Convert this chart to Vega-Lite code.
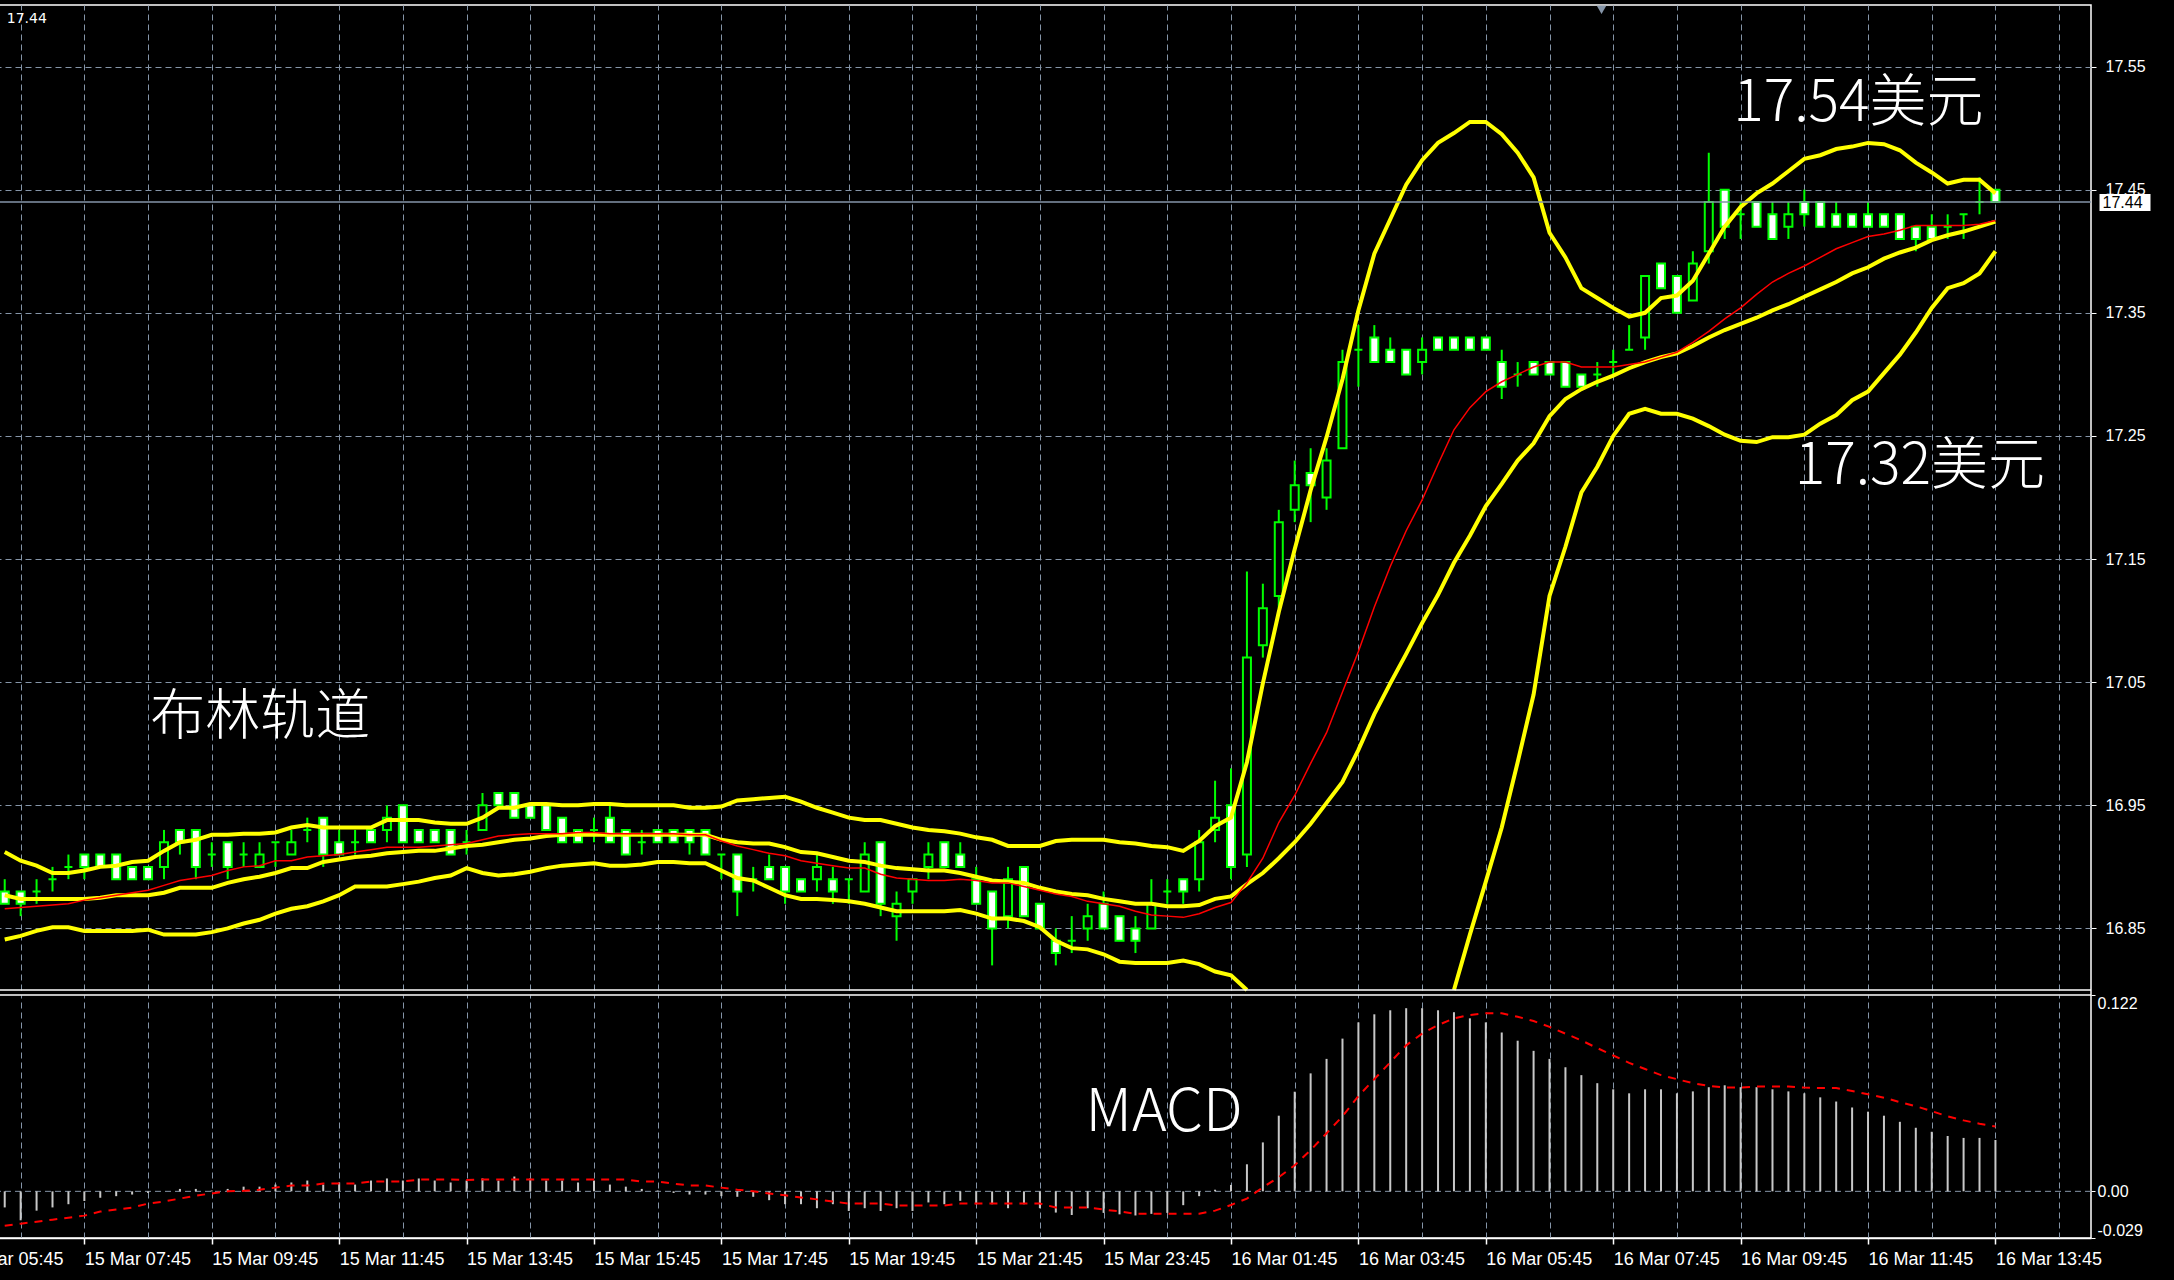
{
"$schema": "https://vega.github.io/schema/vega-lite/v6.json",
"width": 2151,
"height": 1233,
"autosize": {"type": "none"},
"padding": {"left": -60, "top": 5, "right": 83, "bottom": 42},
"background": "#000000",
"config": {
  "view": {"stroke": "#ffffff", "strokeWidth": 1.5, "fill": "#000000"},
  "axis": {"labelFont": "Liberation Sans", "labelColor": "#ffffff", "tickColor": "#ffffff", "domainColor": "#ffffff", "gridColor": "#8595a8", "gridDash": [6, 4], "gridWidth": 1, "labelOverlap": false, "labelFlush": false}
},
"data": {"values": [
{"t":"2017-03-15T06:30Z","open":16.88,"high":16.89,"low":16.87,"close":16.87,"upper":16.912,"mid":16.877,"lower":16.841,"ma":16.866,"macd":-0.010,"signal":-0.0214},
{"t":"2017-03-15T06:45Z","open":16.88,"high":16.88,"low":16.86,"close":16.87,"upper":16.905,"mid":16.874,"lower":16.844,"ma":16.867,"macd":-0.018,"signal":-0.0201},
{"t":"2017-03-15T07:00Z","open":16.88,"high":16.89,"low":16.87,"close":16.88,"upper":16.901,"mid":16.874,"lower":16.848,"ma":16.868,"macd":-0.012,"signal":-0.0189},
{"t":"2017-03-15T07:15Z","open":16.89,"high":16.90,"low":16.88,"close":16.89,"upper":16.895,"mid":16.874,"lower":16.851,"ma":16.869,"macd":-0.010,"signal":-0.0176},
{"t":"2017-03-15T07:30Z","open":16.90,"high":16.91,"low":16.89,"close":16.90,"upper":16.895,"mid":16.874,"lower":16.851,"ma":16.870,"macd":-0.008,"signal":-0.0164},
{"t":"2017-03-15T07:45Z","open":16.91,"high":16.91,"low":16.89,"close":16.90,"upper":16.897,"mid":16.874,"lower":16.848,"ma":16.873,"macd":-0.006,"signal":-0.0151},
{"t":"2017-03-15T08:00Z","open":16.91,"high":16.91,"low":16.90,"close":16.90,"upper":16.900,"mid":16.875,"lower":16.848,"ma":16.875,"macd":-0.004,"signal":-0.0126},
{"t":"2017-03-15T08:15Z","open":16.91,"high":16.91,"low":16.89,"close":16.89,"upper":16.901,"mid":16.877,"lower":16.848,"ma":16.877,"macd":-0.003,"signal":-0.0113},
{"t":"2017-03-15T08:30Z","open":16.90,"high":16.90,"low":16.89,"close":16.89,"upper":16.904,"mid":16.877,"lower":16.848,"ma":16.879,"macd":-0.002,"signal":-0.0101},
{"t":"2017-03-15T08:45Z","open":16.90,"high":16.90,"low":16.89,"close":16.89,"upper":16.905,"mid":16.877,"lower":16.849,"ma":16.881,"macd":-0.001,"signal":-0.0076},
{"t":"2017-03-15T09:00Z","open":16.90,"high":16.93,"low":16.89,"close":16.92,"upper":16.913,"mid":16.879,"lower":16.845,"ma":16.885,"macd":0.000,"signal":-0.0063},
{"t":"2017-03-15T09:15Z","open":16.93,"high":16.93,"low":16.91,"close":16.92,"upper":16.920,"mid":16.883,"lower":16.845,"ma":16.889,"macd":0.0015,"signal":-0.0045},
{"t":"2017-03-15T09:30Z","open":16.93,"high":16.93,"low":16.89,"close":16.90,"upper":16.922,"mid":16.883,"lower":16.845,"ma":16.891,"macd":0.0015,"signal":-0.0027},
{"t":"2017-03-15T09:45Z","open":16.91,"high":16.92,"low":16.90,"close":16.91,"upper":16.926,"mid":16.883,"lower":16.847,"ma":16.893,"macd":0.0005,"signal":-0.0013},
{"t":"2017-03-15T10:00Z","open":16.92,"high":16.92,"low":16.89,"close":16.90,"upper":16.926,"mid":16.887,"lower":16.850,"ma":16.897,"macd":0.0015,"signal":0.0},
{"t":"2017-03-15T10:15Z","open":16.91,"high":16.92,"low":16.90,"close":16.91,"upper":16.927,"mid":16.890,"lower":16.854,"ma":16.900,"macd":0.0029,"signal":0.0003},
{"t":"2017-03-15T10:30Z","open":16.90,"high":16.92,"low":16.90,"close":16.91,"upper":16.927,"mid":16.892,"lower":16.857,"ma":16.901,"macd":0.0029,"signal":0.001},
{"t":"2017-03-15T10:45Z","open":16.92,"high":16.92,"low":16.90,"close":16.92,"upper":16.928,"mid":16.895,"lower":16.862,"ma":16.905,"macd":0.0042,"signal":0.0023},
{"t":"2017-03-15T11:00Z","open":16.91,"high":16.93,"low":16.91,"close":16.92,"upper":16.932,"mid":16.899,"lower":16.866,"ma":16.905,"macd":0.0055,"signal":0.0036},
{"t":"2017-03-15T11:15Z","open":16.93,"high":16.94,"low":16.92,"close":16.93,"upper":16.934,"mid":16.899,"lower":16.868,"ma":16.908,"macd":0.0067,"signal":0.0036},
{"t":"2017-03-15T11:30Z","open":16.94,"high":16.94,"low":16.90,"close":16.91,"upper":16.932,"mid":16.904,"lower":16.872,"ma":16.909,"macd":0.0042,"signal":0.0048},
{"t":"2017-03-15T11:45Z","open":16.92,"high":16.93,"low":16.91,"close":16.91,"upper":16.932,"mid":16.906,"lower":16.877,"ma":16.910,"macd":0.0055,"signal":0.0048},
{"t":"2017-03-15T12:00Z","open":16.92,"high":16.93,"low":16.91,"close":16.92,"upper":16.932,"mid":16.908,"lower":16.884,"ma":16.912,"macd":0.0042,"signal":0.0048},
{"t":"2017-03-15T12:15Z","open":16.93,"high":16.93,"low":16.92,"close":16.92,"upper":16.932,"mid":16.909,"lower":16.884,"ma":16.914,"macd":0.0067,"signal":0.0061},
{"t":"2017-03-15T12:30Z","open":16.93,"high":16.95,"low":16.92,"close":16.94,"upper":16.938,"mid":16.911,"lower":16.884,"ma":16.916,"macd":0.008,"signal":0.0061},
{"t":"2017-03-15T12:45Z","open":16.95,"high":16.95,"low":16.92,"close":16.92,"upper":16.938,"mid":16.912,"lower":16.886,"ma":16.916,"macd":0.0067,"signal":0.0061},
{"t":"2017-03-15T13:00Z","open":16.93,"high":16.93,"low":16.92,"close":16.92,"upper":16.938,"mid":16.913,"lower":16.888,"ma":16.916,"macd":0.008,"signal":0.0073},
{"t":"2017-03-15T13:15Z","open":16.93,"high":16.93,"low":16.92,"close":16.92,"upper":16.936,"mid":16.913,"lower":16.891,"ma":16.917,"macd":0.0067,"signal":0.0073},
{"t":"2017-03-15T13:30Z","open":16.93,"high":16.93,"low":16.91,"close":16.91,"upper":16.935,"mid":16.915,"lower":16.893,"ma":16.918,"macd":0.0055,"signal":0.0073},
{"t":"2017-03-15T13:45Z","open":16.92,"high":16.93,"low":16.91,"close":16.92,"upper":16.935,"mid":16.917,"lower":16.899,"ma":16.919,"macd":0.0067,"signal":0.007},
{"t":"2017-03-15T14:00Z","open":16.93,"high":16.96,"low":16.93,"close":16.95,"upper":16.940,"mid":16.918,"lower":16.895,"ma":16.922,"macd":0.008,"signal":0.0073},
{"t":"2017-03-15T14:15Z","open":16.96,"high":16.96,"low":16.95,"close":16.95,"upper":16.948,"mid":16.920,"lower":16.893,"ma":16.925,"macd":0.0067,"signal":0.0073},
{"t":"2017-03-15T14:30Z","open":16.96,"high":16.96,"low":16.94,"close":16.94,"upper":16.948,"mid":16.922,"lower":16.894,"ma":16.926,"macd":0.0092,"signal":0.0073},
{"t":"2017-03-15T14:45Z","open":16.95,"high":16.95,"low":16.94,"close":16.94,"upper":16.951,"mid":16.923,"lower":16.896,"ma":16.927,"macd":0.008,"signal":0.0073},
{"t":"2017-03-15T15:00Z","open":16.95,"high":16.95,"low":16.93,"close":16.93,"upper":16.951,"mid":16.925,"lower":16.899,"ma":16.927,"macd":0.0067,"signal":0.0073},
{"t":"2017-03-15T15:15Z","open":16.94,"high":16.94,"low":16.92,"close":16.92,"upper":16.950,"mid":16.926,"lower":16.901,"ma":16.927,"macd":0.0067,"signal":0.0073},
{"t":"2017-03-15T15:30Z","open":16.93,"high":16.93,"low":16.92,"close":16.92,"upper":16.950,"mid":16.926,"lower":16.902,"ma":16.928,"macd":0.0055,"signal":0.0073},
{"t":"2017-03-15T15:45Z","open":16.93,"high":16.94,"low":16.92,"close":16.93,"upper":16.951,"mid":16.926,"lower":16.903,"ma":16.928,"macd":0.0067,"signal":0.0073},
{"t":"2017-03-15T16:00Z","open":16.94,"high":16.95,"low":16.92,"close":16.92,"upper":16.951,"mid":16.926,"lower":16.901,"ma":16.927,"macd":0.0042,"signal":0.0073},
{"t":"2017-03-15T16:15Z","open":16.93,"high":16.93,"low":16.91,"close":16.91,"upper":16.950,"mid":16.926,"lower":16.901,"ma":16.927,"macd":0.0029,"signal":0.0073},
{"t":"2017-03-15T16:30Z","open":16.92,"high":16.93,"low":16.91,"close":16.92,"upper":16.950,"mid":16.926,"lower":16.902,"ma":16.927,"macd":0.0015,"signal":0.0061},
{"t":"2017-03-15T16:45Z","open":16.93,"high":16.93,"low":16.92,"close":16.92,"upper":16.950,"mid":16.926,"lower":16.904,"ma":16.927,"macd":0.0005,"signal":0.0061},
{"t":"2017-03-15T17:00Z","open":16.93,"high":16.93,"low":16.92,"close":16.92,"upper":16.950,"mid":16.926,"lower":16.904,"ma":16.927,"macd":-0.001,"signal":0.0048},
{"t":"2017-03-15T17:15Z","open":16.93,"high":16.93,"low":16.91,"close":16.92,"upper":16.948,"mid":16.926,"lower":16.903,"ma":16.926,"macd":-0.002,"signal":0.0036},
{"t":"2017-03-15T17:30Z","open":16.93,"high":16.93,"low":16.91,"close":16.91,"upper":16.948,"mid":16.926,"lower":16.903,"ma":16.926,"macd":-0.002,"signal":0.0036},
{"t":"2017-03-15T17:45Z","open":16.91,"high":16.91,"low":16.89,"close":16.91,"upper":16.949,"mid":16.922,"lower":16.897,"ma":16.921,"macd":-0.003,"signal":0.0023},
{"t":"2017-03-15T18:00Z","open":16.91,"high":16.91,"low":16.86,"close":16.88,"upper":16.954,"mid":16.920,"lower":16.891,"ma":16.917,"macd":-0.0034,"signal":0.001},
{"t":"2017-03-15T18:15Z","open":16.89,"high":16.90,"low":16.88,"close":16.89,"upper":16.955,"mid":16.919,"lower":16.889,"ma":16.914,"macd":-0.0034,"signal":0.0},
{"t":"2017-03-15T18:30Z","open":16.90,"high":16.91,"low":16.89,"close":16.89,"upper":16.956,"mid":16.919,"lower":16.883,"ma":16.911,"macd":-0.0055,"signal":-0.0013},
{"t":"2017-03-15T18:45Z","open":16.90,"high":16.90,"low":16.87,"close":16.88,"upper":16.957,"mid":16.916,"lower":16.877,"ma":16.909,"macd":-0.008,"signal":-0.0025},
{"t":"2017-03-15T19:00Z","open":16.89,"high":16.89,"low":16.88,"close":16.88,"upper":16.953,"mid":16.912,"lower":16.874,"ma":16.905,"macd":-0.008,"signal":-0.0038},
{"t":"2017-03-15T19:15Z","open":16.89,"high":16.91,"low":16.88,"close":16.90,"upper":16.948,"mid":16.911,"lower":16.874,"ma":16.903,"macd":-0.0105,"signal":-0.005},
{"t":"2017-03-15T19:30Z","open":16.89,"high":16.90,"low":16.87,"close":16.88,"upper":16.944,"mid":16.908,"lower":16.873,"ma":16.901,"macd":-0.008,"signal":-0.0063},
{"t":"2017-03-15T19:45Z","open":16.89,"high":16.89,"low":16.87,"close":16.89,"upper":16.940,"mid":16.905,"lower":16.872,"ma":16.899,"macd":-0.0122,"signal":-0.0076},
{"t":"2017-03-15T20:00Z","open":16.88,"high":16.92,"low":16.88,"close":16.91,"upper":16.938,"mid":16.904,"lower":16.870,"ma":16.899,"macd":-0.0105,"signal":-0.0076},
{"t":"2017-03-15T20:15Z","open":16.92,"high":16.92,"low":16.86,"close":16.87,"upper":16.938,"mid":16.901,"lower":16.867,"ma":16.894,"macd":-0.0122,"signal":-0.0076},
{"t":"2017-03-15T20:30Z","open":16.86,"high":16.88,"low":16.84,"close":16.87,"upper":16.935,"mid":16.899,"lower":16.864,"ma":16.891,"macd":-0.0105,"signal":-0.0088},
{"t":"2017-03-15T20:45Z","open":16.88,"high":16.89,"low":16.87,"close":16.89,"upper":16.932,"mid":16.898,"lower":16.864,"ma":16.890,"macd":-0.0122,"signal":-0.0088},
{"t":"2017-03-15T21:00Z","open":16.90,"high":16.92,"low":16.89,"close":16.91,"upper":16.930,"mid":16.897,"lower":16.864,"ma":16.889,"macd":-0.0069,"signal":-0.0088},
{"t":"2017-03-15T21:15Z","open":16.92,"high":16.92,"low":16.90,"close":16.90,"upper":16.929,"mid":16.897,"lower":16.864,"ma":16.889,"macd":-0.008,"signal":-0.0088},
{"t":"2017-03-15T21:30Z","open":16.91,"high":16.92,"low":16.90,"close":16.90,"upper":16.927,"mid":16.895,"lower":16.865,"ma":16.890,"macd":-0.0059,"signal":-0.0076},
{"t":"2017-03-15T21:45Z","open":16.89,"high":16.90,"low":16.87,"close":16.87,"upper":16.924,"mid":16.892,"lower":16.862,"ma":16.889,"macd":-0.008,"signal":-0.0076},
{"t":"2017-03-15T22:00Z","open":16.88,"high":16.88,"low":16.82,"close":16.85,"upper":16.922,"mid":16.889,"lower":16.858,"ma":16.887,"macd":-0.008,"signal":-0.0076},
{"t":"2017-03-15T22:15Z","open":16.86,"high":16.90,"low":16.85,"close":16.89,"upper":16.917,"mid":16.888,"lower":16.858,"ma":16.887,"macd":-0.0105,"signal":-0.0076},
{"t":"2017-03-15T22:30Z","open":16.90,"high":16.90,"low":16.86,"close":16.86,"upper":16.917,"mid":16.887,"lower":16.856,"ma":16.884,"macd":-0.008,"signal":-0.0076},
{"t":"2017-03-15T22:45Z","open":16.87,"high":16.87,"low":16.85,"close":16.85,"upper":16.917,"mid":16.883,"lower":16.851,"ma":16.881,"macd":-0.0105,"signal":-0.0076},
{"t":"2017-03-15T23:00Z","open":16.84,"high":16.85,"low":16.82,"close":16.83,"upper":16.921,"mid":16.880,"lower":16.840,"ma":16.878,"macd":-0.0132,"signal":-0.0101},
{"t":"2017-03-15T23:15Z","open":16.84,"high":16.86,"low":16.83,"close":16.84,"upper":16.922,"mid":16.878,"lower":16.834,"ma":16.876,"macd":-0.0147,"signal":-0.0101},
{"t":"2017-03-15T23:30Z","open":16.85,"high":16.87,"low":16.84,"close":16.86,"upper":16.922,"mid":16.877,"lower":16.833,"ma":16.872,"macd":-0.0105,"signal":-0.0101},
{"t":"2017-03-15T23:45Z","open":16.87,"high":16.88,"low":16.85,"close":16.85,"upper":16.922,"mid":16.874,"lower":16.829,"ma":16.870,"macd":-0.0134,"signal":-0.0113},
{"t":"2017-03-16T00:00Z","open":16.86,"high":16.86,"low":16.84,"close":16.84,"upper":16.920,"mid":16.872,"lower":16.823,"ma":16.868,"macd":-0.0143,"signal":-0.0125},
{"t":"2017-03-16T00:15Z","open":16.85,"high":16.86,"low":16.83,"close":16.84,"upper":16.919,"mid":16.870,"lower":16.822,"ma":16.864,"macd":-0.015,"signal":-0.0139},
{"t":"2017-03-16T00:30Z","open":16.85,"high":16.89,"low":16.85,"close":16.87,"upper":16.917,"mid":16.870,"lower":16.822,"ma":16.861,"macd":-0.014,"signal":-0.0139},
{"t":"2017-03-16T00:45Z","open":16.88,"high":16.89,"low":16.87,"close":16.88,"upper":16.916,"mid":16.868,"lower":16.822,"ma":16.860,"macd":-0.0134,"signal":-0.0139},
{"t":"2017-03-16T01:00Z","open":16.89,"high":16.89,"low":16.87,"close":16.88,"upper":16.913,"mid":16.868,"lower":16.824,"ma":16.859,"macd":-0.0086,"signal":-0.0139},
{"t":"2017-03-16T01:15Z","open":16.89,"high":16.93,"low":16.88,"close":16.92,"upper":16.921,"mid":16.869,"lower":16.821,"ma":16.862,"macd":-0.003,"signal":-0.0139},
{"t":"2017-03-16T01:30Z","open":16.93,"high":16.97,"low":16.92,"close":16.94,"upper":16.933,"mid":16.874,"lower":16.815,"ma":16.867,"macd":0.001,"signal":-0.012},
{"t":"2017-03-16T01:45Z","open":16.95,"high":16.98,"low":16.89,"close":16.90,"upper":16.940,"mid":16.876,"lower":16.812,"ma":16.871,"macd":0.004,"signal":-0.0085},
{"t":"2017-03-16T02:00Z","open":16.91,"high":17.14,"low":16.90,"close":17.07,"upper":16.985,"mid":16.886,"lower":16.787,"ma":16.887,"macd":0.0168,"signal":-0.0045},
{"t":"2017-03-16T02:15Z","open":17.08,"high":17.13,"low":17.07,"close":17.11,"upper":17.049,"mid":16.895,"lower":null,"ma":16.907,"macd":0.0304,"signal":0.0025},
{"t":"2017-03-16T02:30Z","open":17.12,"high":17.19,"low":17.11,"close":17.18,"upper":17.107,"mid":16.907,"lower":null,"ma":16.936,"macd":0.047,"signal":0.0088},
{"t":"2017-03-16T02:45Z","open":17.19,"high":17.23,"low":17.18,"close":17.21,"upper":17.158,"mid":16.920,"lower":null,"ma":16.958,"macd":0.0619,"signal":0.0162},
{"t":"2017-03-16T03:00Z","open":17.22,"high":17.24,"low":17.18,"close":17.21,"upper":17.206,"mid":16.935,"lower":null,"ma":16.984,"macd":0.0733,"signal":0.0256},
{"t":"2017-03-16T03:15Z","open":17.20,"high":17.24,"low":17.19,"close":17.23,"upper":17.249,"mid":16.952,"lower":null,"ma":17.009,"macd":0.0823,"signal":0.0361},
{"t":"2017-03-16T03:30Z","open":17.24,"high":17.32,"low":17.24,"close":17.31,"upper":17.296,"mid":16.969,"lower":null,"ma":17.042,"macd":0.0949,"signal":0.0466},
{"t":"2017-03-16T03:45Z","open":17.32,"high":17.34,"low":17.29,"close":17.32,"upper":17.352,"mid":16.995,"lower":null,"ma":17.075,"macd":0.105,"signal":0.0592},
{"t":"2017-03-16T04:00Z","open":17.33,"high":17.34,"low":17.31,"close":17.31,"upper":17.398,"mid":17.024,"lower":null,"ma":17.111,"macd":0.110,"signal":0.0697},
{"t":"2017-03-16T04:15Z","open":17.32,"high":17.33,"low":17.31,"close":17.31,"upper":17.426,"mid":17.049,"lower":null,"ma":17.144,"macd":0.1125,"signal":0.0802},
{"t":"2017-03-16T04:30Z","open":17.32,"high":17.32,"low":17.30,"close":17.30,"upper":17.454,"mid":17.073,"lower":null,"ma":17.173,"macd":0.1138,"signal":0.0907},
{"t":"2017-03-16T04:45Z","open":17.31,"high":17.33,"low":17.30,"close":17.32,"upper":17.474,"mid":17.098,"lower":null,"ma":17.198,"macd":0.1138,"signal":0.098},
{"t":"2017-03-16T05:00Z","open":17.33,"high":17.33,"low":17.32,"close":17.32,"upper":17.488,"mid":17.121,"lower":null,"ma":17.227,"macd":0.1125,"signal":0.1033},
{"t":"2017-03-16T05:15Z","open":17.33,"high":17.33,"low":17.32,"close":17.32,"upper":17.496,"mid":17.147,"lower":16.798,"ma":17.255,"macd":0.1113,"signal":0.1075},
{"t":"2017-03-16T05:30Z","open":17.33,"high":17.33,"low":17.32,"close":17.32,"upper":17.505,"mid":17.169,"lower":16.845,"ma":17.273,"macd":0.1075,"signal":0.1096},
{"t":"2017-03-16T05:45Z","open":17.33,"high":17.33,"low":17.32,"close":17.32,"upper":17.505,"mid":17.193,"lower":16.888,"ma":17.286,"macd":0.105,"signal":0.1106},
{"t":"2017-03-16T06:00Z","open":17.31,"high":17.32,"low":17.28,"close":17.29,"upper":17.495,"mid":17.211,"lower":16.932,"ma":17.294,"macd":0.0987,"signal":0.1106},
{"t":"2017-03-16T06:15Z","open":17.30,"high":17.31,"low":17.29,"close":17.30,"upper":17.480,"mid":17.230,"lower":16.985,"ma":17.300,"macd":0.0936,"signal":0.1085},
{"t":"2017-03-16T06:30Z","open":17.31,"high":17.31,"low":17.30,"close":17.30,"upper":17.460,"mid":17.244,"lower":17.040,"ma":17.306,"macd":0.0873,"signal":0.1058},
{"t":"2017-03-16T06:45Z","open":17.31,"high":17.31,"low":17.30,"close":17.30,"upper":17.415,"mid":17.266,"lower":17.120,"ma":17.310,"macd":0.0823,"signal":0.1022},
{"t":"2017-03-16T07:00Z","open":17.31,"high":17.31,"low":17.29,"close":17.29,"upper":17.395,"mid":17.280,"lower":17.160,"ma":17.310,"macd":0.0771,"signal":0.098},
{"t":"2017-03-16T07:15Z","open":17.30,"high":17.30,"low":17.29,"close":17.29,"upper":17.370,"mid":17.288,"lower":17.204,"ma":17.306,"macd":0.0722,"signal":0.0938},
{"t":"2017-03-16T07:30Z","open":17.30,"high":17.31,"low":17.29,"close":17.30,"upper":17.362,"mid":17.294,"lower":17.225,"ma":17.306,"macd":0.0672,"signal":0.089},
{"t":"2017-03-16T07:45Z","open":17.31,"high":17.32,"low":17.30,"close":17.31,"upper":17.354,"mid":17.299,"lower":17.250,"ma":17.306,"macd":0.0634,"signal":0.0844},
{"t":"2017-03-16T08:00Z","open":17.32,"high":17.34,"low":17.32,"close":17.32,"upper":17.347,"mid":17.305,"lower":17.268,"ma":17.308,"macd":0.0609,"signal":0.0798},
{"t":"2017-03-16T08:15Z","open":17.33,"high":17.38,"low":17.32,"close":17.38,"upper":17.350,"mid":17.310,"lower":17.272,"ma":17.310,"macd":0.0634,"signal":0.076},
{"t":"2017-03-16T08:30Z","open":17.39,"high":17.39,"low":17.37,"close":17.37,"upper":17.362,"mid":17.314,"lower":17.268,"ma":17.314,"macd":0.0634,"signal":0.0722},
{"t":"2017-03-16T08:45Z","open":17.38,"high":17.38,"low":17.35,"close":17.35,"upper":17.364,"mid":17.317,"lower":17.268,"ma":17.318,"macd":0.0609,"signal":0.0697},
{"t":"2017-03-16T09:00Z","open":17.36,"high":17.40,"low":17.36,"close":17.39,"upper":17.376,"mid":17.323,"lower":17.264,"ma":17.326,"macd":0.0621,"signal":0.0672},
{"t":"2017-03-16T09:15Z","open":17.40,"high":17.48,"low":17.39,"close":17.44,"upper":17.398,"mid":17.330,"lower":17.258,"ma":17.335,"macd":0.0647,"signal":0.0655},
{"t":"2017-03-16T09:30Z","open":17.45,"high":17.45,"low":17.41,"close":17.42,"upper":17.420,"mid":17.336,"lower":17.251,"ma":17.345,"macd":0.0659,"signal":0.0645},
{"t":"2017-03-16T09:45Z","open":17.43,"high":17.44,"low":17.41,"close":17.43,"upper":17.436,"mid":17.341,"lower":17.246,"ma":17.354,"macd":0.0647,"signal":0.0645},
{"t":"2017-03-16T10:00Z","open":17.44,"high":17.44,"low":17.42,"close":17.42,"upper":17.447,"mid":17.346,"lower":17.245,"ma":17.365,"macd":0.0647,"signal":0.0651},
{"t":"2017-03-16T10:15Z","open":17.43,"high":17.44,"low":17.41,"close":17.41,"upper":17.455,"mid":17.352,"lower":17.249,"ma":17.375,"macd":0.0634,"signal":0.0651},
{"t":"2017-03-16T10:30Z","open":17.42,"high":17.44,"low":17.41,"close":17.43,"upper":17.465,"mid":17.357,"lower":17.249,"ma":17.382,"macd":0.0621,"signal":0.0651},
{"t":"2017-03-16T10:45Z","open":17.44,"high":17.45,"low":17.42,"close":17.43,"upper":17.475,"mid":17.363,"lower":17.251,"ma":17.388,"macd":0.0609,"signal":0.0645},
{"t":"2017-03-16T11:00Z","open":17.44,"high":17.44,"low":17.42,"close":17.42,"upper":17.478,"mid":17.369,"lower":17.260,"ma":17.395,"macd":0.0584,"signal":0.0642},
{"t":"2017-03-16T11:15Z","open":17.43,"high":17.44,"low":17.42,"close":17.42,"upper":17.483,"mid":17.375,"lower":17.267,"ma":17.402,"macd":0.0558,"signal":0.0642},
{"t":"2017-03-16T11:30Z","open":17.43,"high":17.43,"low":17.42,"close":17.42,"upper":17.485,"mid":17.382,"lower":17.279,"ma":17.407,"macd":0.0521,"signal":0.0624},
{"t":"2017-03-16T11:45Z","open":17.43,"high":17.44,"low":17.42,"close":17.42,"upper":17.488,"mid":17.387,"lower":17.286,"ma":17.412,"macd":0.0495,"signal":0.0603},
{"t":"2017-03-16T12:00Z","open":17.43,"high":17.43,"low":17.42,"close":17.42,"upper":17.487,"mid":17.394,"lower":17.301,"ma":17.414,"macd":0.047,"signal":0.0582},
{"t":"2017-03-16T12:15Z","open":17.43,"high":17.43,"low":17.41,"close":17.41,"upper":17.482,"mid":17.399,"lower":17.316,"ma":17.417,"macd":0.0432,"signal":0.0554},
{"t":"2017-03-16T12:30Z","open":17.42,"high":17.42,"low":17.40,"close":17.41,"upper":17.472,"mid":17.403,"lower":17.334,"ma":17.421,"macd":0.0395,"signal":0.0529},
{"t":"2017-03-16T12:45Z","open":17.42,"high":17.43,"low":17.41,"close":17.41,"upper":17.464,"mid":17.409,"lower":17.354,"ma":17.421,"macd":0.037,"signal":0.0498},
{"t":"2017-03-16T13:00Z","open":17.42,"high":17.43,"low":17.41,"close":17.42,"upper":17.455,"mid":17.413,"lower":17.370,"ma":17.421,"macd":0.0344,"signal":0.0466},
{"t":"2017-03-16T13:15Z","open":17.43,"high":17.43,"low":17.41,"close":17.43,"upper":17.458,"mid":17.416,"lower":17.374,"ma":17.421,"macd":0.0332,"signal":0.0441},
{"t":"2017-03-16T13:30Z","open":17.44,"high":17.46,"low":17.43,"close":17.44,"upper":17.458,"mid":17.420,"lower":17.382,"ma":17.422,"macd":0.0332,"signal":0.042},
{"t":"2017-03-16T13:45Z","open":17.45,"high":17.45,"low":17.44,"close":17.44,"upper":17.447,"mid":17.424,"lower":17.400,"ma":17.425,"macd":0.0319,"signal":0.0403}
]},
"layer": [
  {
    "layer": [
      {
        "mark": {"type": "rule", "color": "#00ff00", "strokeWidth": 2},
        "encoding": {
          "x": {"field": "t", "type": "temporal",
            "scale": {"type": "utc", "domain": [{"year": 2017, "month": 3, "date": 15, "hours": 5, "minutes": 33, "seconds": 45, "utc": true}, {"year": 2017, "month": 3, "date": 16, "hours": 15, "minutes": 10, "seconds": 18, "utc": true}]},
            "axis": {"orient": "top", "title": null, "labels": false, "ticks": false, "domain": false, "grid": true,
              "values": [
                {"year": 2017, "month": 3, "date": 15, "hours": 6, "minutes": 45, "utc": true},
                {"year": 2017, "month": 3, "date": 15, "hours": 7, "minutes": 45, "utc": true},
                {"year": 2017, "month": 3, "date": 15, "hours": 8, "minutes": 45, "utc": true},
                {"year": 2017, "month": 3, "date": 15, "hours": 9, "minutes": 45, "utc": true},
                {"year": 2017, "month": 3, "date": 15, "hours": 10, "minutes": 45, "utc": true},
                {"year": 2017, "month": 3, "date": 15, "hours": 11, "minutes": 45, "utc": true},
                {"year": 2017, "month": 3, "date": 15, "hours": 12, "minutes": 45, "utc": true},
                {"year": 2017, "month": 3, "date": 15, "hours": 13, "minutes": 45, "utc": true},
                {"year": 2017, "month": 3, "date": 15, "hours": 14, "minutes": 45, "utc": true},
                {"year": 2017, "month": 3, "date": 15, "hours": 15, "minutes": 45, "utc": true},
                {"year": 2017, "month": 3, "date": 15, "hours": 16, "minutes": 45, "utc": true},
                {"year": 2017, "month": 3, "date": 15, "hours": 17, "minutes": 45, "utc": true},
                {"year": 2017, "month": 3, "date": 15, "hours": 18, "minutes": 45, "utc": true},
                {"year": 2017, "month": 3, "date": 15, "hours": 19, "minutes": 45, "utc": true},
                {"year": 2017, "month": 3, "date": 15, "hours": 20, "minutes": 45, "utc": true},
                {"year": 2017, "month": 3, "date": 15, "hours": 21, "minutes": 45, "utc": true},
                {"year": 2017, "month": 3, "date": 15, "hours": 22, "minutes": 45, "utc": true},
                {"year": 2017, "month": 3, "date": 15, "hours": 23, "minutes": 45, "utc": true},
                {"year": 2017, "month": 3, "date": 16, "hours": 0, "minutes": 45, "utc": true},
                {"year": 2017, "month": 3, "date": 16, "hours": 1, "minutes": 45, "utc": true},
                {"year": 2017, "month": 3, "date": 16, "hours": 2, "minutes": 45, "utc": true},
                {"year": 2017, "month": 3, "date": 16, "hours": 3, "minutes": 45, "utc": true},
                {"year": 2017, "month": 3, "date": 16, "hours": 4, "minutes": 45, "utc": true},
                {"year": 2017, "month": 3, "date": 16, "hours": 5, "minutes": 45, "utc": true},
                {"year": 2017, "month": 3, "date": 16, "hours": 6, "minutes": 45, "utc": true},
                {"year": 2017, "month": 3, "date": 16, "hours": 7, "minutes": 45, "utc": true},
                {"year": 2017, "month": 3, "date": 16, "hours": 8, "minutes": 45, "utc": true},
                {"year": 2017, "month": 3, "date": 16, "hours": 9, "minutes": 45, "utc": true},
                {"year": 2017, "month": 3, "date": 16, "hours": 10, "minutes": 45, "utc": true},
                {"year": 2017, "month": 3, "date": 16, "hours": 11, "minutes": 45, "utc": true},
                {"year": 2017, "month": 3, "date": 16, "hours": 12, "minutes": 45, "utc": true},
                {"year": 2017, "month": 3, "date": 16, "hours": 13, "minutes": 45, "utc": true},
                {"year": 2017, "month": 3, "date": 16, "hours": 14, "minutes": 45, "utc": true}
              ]}},
          "y": {"field": "low", "type": "quantitative",
            "scale": {"domain": [16.8, 17.6], "range": [985, 0], "zero": false, "nice": false, "clamp": true},
            "axis": {"orient": "right", "title": null, "values": [16.85, 16.95, 17.05, 17.15, 17.25, 17.35, 17.45, 17.55], "format": ".2f", "labelFontSize": 16, "labelPadding": 9, "tickSize": 5, "domain": false, "grid": true}},
          "y2": {"field": "high"}
        }
      },
      {
        "mark": {"type": "bar", "width": 8, "stroke": "#00ff00", "strokeWidth": 2},
        "encoding": {
          "x": {"field": "t", "type": "temporal", "scale": {"type": "utc", "domain": [{"year": 2017, "month": 3, "date": 15, "hours": 5, "minutes": 33, "seconds": 45, "utc": true}, {"year": 2017, "month": 3, "date": 16, "hours": 15, "minutes": 10, "seconds": 18, "utc": true}]}},
          "y": {"field": "open", "type": "quantitative", "scale": {"domain": [16.8, 17.6], "range": [985, 0], "zero": false, "nice": false, "clamp": true}},
          "y2": {"field": "close"},
          "fill": {"condition": {"test": "datum.close < datum.open", "value": "#ffffff"}, "value": "#000000"}
        }
      },
      {
        "mark": {"type": "line", "color": "#ffff00", "strokeWidth": 4},
        "encoding": {
          "x": {"field": "t", "type": "temporal", "scale": {"type": "utc", "domain": [{"year": 2017, "month": 3, "date": 15, "hours": 5, "minutes": 33, "seconds": 45, "utc": true}, {"year": 2017, "month": 3, "date": 16, "hours": 15, "minutes": 10, "seconds": 18, "utc": true}]}},
          "y": {"field": "upper", "type": "quantitative", "scale": {"domain": [16.8, 17.6], "range": [985, 0], "zero": false, "nice": false, "clamp": true}}
        }
      },
      {
        "mark": {"type": "line", "color": "#ffff00", "strokeWidth": 4},
        "encoding": {
          "x": {"field": "t", "type": "temporal", "scale": {"type": "utc", "domain": [{"year": 2017, "month": 3, "date": 15, "hours": 5, "minutes": 33, "seconds": 45, "utc": true}, {"year": 2017, "month": 3, "date": 16, "hours": 15, "minutes": 10, "seconds": 18, "utc": true}]}},
          "y": {"field": "mid", "type": "quantitative", "scale": {"domain": [16.8, 17.6], "range": [985, 0], "zero": false, "nice": false, "clamp": true}}
        }
      },
      {
        "mark": {"type": "line", "color": "#ffff00", "strokeWidth": 4, "invalid": "break-paths-show-domains"},
        "encoding": {
          "x": {"field": "t", "type": "temporal", "scale": {"type": "utc", "domain": [{"year": 2017, "month": 3, "date": 15, "hours": 5, "minutes": 33, "seconds": 45, "utc": true}, {"year": 2017, "month": 3, "date": 16, "hours": 15, "minutes": 10, "seconds": 18, "utc": true}]}},
          "y": {"field": "lower", "type": "quantitative", "scale": {"domain": [16.8, 17.6], "range": [985, 0], "zero": false, "nice": false, "clamp": true}}
        }
      },
      {
        "mark": {"type": "line", "color": "#ff0000", "strokeWidth": 1.5},
        "encoding": {
          "x": {"field": "t", "type": "temporal", "scale": {"type": "utc", "domain": [{"year": 2017, "month": 3, "date": 15, "hours": 5, "minutes": 33, "seconds": 45, "utc": true}, {"year": 2017, "month": 3, "date": 16, "hours": 15, "minutes": 10, "seconds": 18, "utc": true}]}},
          "y": {"field": "ma", "type": "quantitative", "scale": {"domain": [16.8, 17.6], "range": [985, 0], "zero": false, "nice": false, "clamp": true}}
        }
      },
      {
        "data": {"values": [{"edge": 16.8}]},
        "mark": {"type": "rule", "color": "#ffffff", "strokeWidth": 1.5},
        "encoding": {
          "y": {"field": "edge", "type": "quantitative", "scale": {"domain": [16.8, 17.6], "range": [985, 0], "zero": false, "nice": false, "clamp": true}}
        }
      },
      {
        "data": {"values": [
          {"t": "2017-03-15T08:47Z", "price": 17.022, "label": "布林轨道", "size": 55},
          {"t": "2017-03-16T09:38Z", "price": 17.520, "label": "17.54美元", "size": 57},
          {"t": "2017-03-16T10:36Z", "price": 17.225, "label": "17.32美元", "size": 57}
        ]},
        "mark": {"type": "text", "font": "Noto Sans CJK SC", "fontWeight": 300, "color": "#ffffff", "align": "left", "baseline": "middle"},
        "encoding": {
          "x": {"field": "t", "type": "temporal", "scale": {"type": "utc", "domain": [{"year": 2017, "month": 3, "date": 15, "hours": 5, "minutes": 33, "seconds": 45, "utc": true}, {"year": 2017, "month": 3, "date": 16, "hours": 15, "minutes": 10, "seconds": 18, "utc": true}]}},
          "y": {"field": "price", "type": "quantitative", "scale": {"domain": [16.8, 17.6], "range": [985, 0], "zero": false, "nice": false, "clamp": true}},
          "text": {"field": "label"},
          "size": {"field": "size", "type": "quantitative", "scale": null, "legend": null}
        }
      },
      {
        "data": {"values": [{"t": "2017-03-15T06:30Z", "price": 17.589, "label": "17.44"}]},
        "mark": {"type": "text", "font": "DejaVu Sans", "fontSize": 14, "color": "#ffffff", "align": "left", "baseline": "middle", "dx": 2},
        "encoding": {
          "x": {"field": "t", "type": "temporal", "scale": {"type": "utc", "domain": [{"year": 2017, "month": 3, "date": 15, "hours": 5, "minutes": 33, "seconds": 45, "utc": true}, {"year": 2017, "month": 3, "date": 16, "hours": 15, "minutes": 10, "seconds": 18, "utc": true}]}},
          "y": {"field": "price", "type": "quantitative", "scale": {"domain": [16.8, 17.6], "range": [985, 0], "zero": false, "nice": false, "clamp": true}},
          "text": {"field": "label"}
        }
      },
      {
        "data": {"values": [{"t": "2017-03-16T07:34Z", "price": 17.596}]},
        "mark": {"type": "point", "shape": "triangle-down", "filled": true, "color": "#8595a8", "size": 90, "opacity": 1},
        "encoding": {
          "x": {"field": "t", "type": "temporal", "scale": {"type": "utc", "domain": [{"year": 2017, "month": 3, "date": 15, "hours": 5, "minutes": 33, "seconds": 45, "utc": true}, {"year": 2017, "month": 3, "date": 16, "hours": 15, "minutes": 10, "seconds": 18, "utc": true}]}},
          "y": {"field": "price", "type": "quantitative", "scale": {"domain": [16.8, 17.6], "range": [985, 0], "zero": false, "nice": false, "clamp": true}}
        }
      }
    ]
  },
  {
    "layer": [
      {
        "data": {"values": [{"level": 0}]},
        "mark": {"type": "rule", "color": "#8595a8", "strokeWidth": 1, "strokeDash": [6, 4]},
        "encoding": {
          "y": {"field": "level", "type": "quantitative", "scale": {"domain": [-0.029, 0.122], "range": [1233, 990], "zero": false, "nice": false}, "axis": null}
        }
      },
      {
        "mark": {"type": "rule", "color": "#c8c8c8", "strokeWidth": 2},
        "encoding": {
          "x": {"field": "t", "type": "temporal",
            "scale": {"type": "utc", "domain": [{"year": 2017, "month": 3, "date": 15, "hours": 5, "minutes": 33, "seconds": 45, "utc": true}, {"year": 2017, "month": 3, "date": 16, "hours": 15, "minutes": 10, "seconds": 18, "utc": true}]},
            "axis": {"orient": "top", "title": null, "labels": false, "ticks": false, "domain": false, "grid": true,
              "values": [
                {"year": 2017, "month": 3, "date": 15, "hours": 6, "minutes": 45, "utc": true},
                {"year": 2017, "month": 3, "date": 15, "hours": 7, "minutes": 45, "utc": true},
                {"year": 2017, "month": 3, "date": 15, "hours": 8, "minutes": 45, "utc": true},
                {"year": 2017, "month": 3, "date": 15, "hours": 9, "minutes": 45, "utc": true},
                {"year": 2017, "month": 3, "date": 15, "hours": 10, "minutes": 45, "utc": true},
                {"year": 2017, "month": 3, "date": 15, "hours": 11, "minutes": 45, "utc": true},
                {"year": 2017, "month": 3, "date": 15, "hours": 12, "minutes": 45, "utc": true},
                {"year": 2017, "month": 3, "date": 15, "hours": 13, "minutes": 45, "utc": true},
                {"year": 2017, "month": 3, "date": 15, "hours": 14, "minutes": 45, "utc": true},
                {"year": 2017, "month": 3, "date": 15, "hours": 15, "minutes": 45, "utc": true},
                {"year": 2017, "month": 3, "date": 15, "hours": 16, "minutes": 45, "utc": true},
                {"year": 2017, "month": 3, "date": 15, "hours": 17, "minutes": 45, "utc": true},
                {"year": 2017, "month": 3, "date": 15, "hours": 18, "minutes": 45, "utc": true},
                {"year": 2017, "month": 3, "date": 15, "hours": 19, "minutes": 45, "utc": true},
                {"year": 2017, "month": 3, "date": 15, "hours": 20, "minutes": 45, "utc": true},
                {"year": 2017, "month": 3, "date": 15, "hours": 21, "minutes": 45, "utc": true},
                {"year": 2017, "month": 3, "date": 15, "hours": 22, "minutes": 45, "utc": true},
                {"year": 2017, "month": 3, "date": 15, "hours": 23, "minutes": 45, "utc": true},
                {"year": 2017, "month": 3, "date": 16, "hours": 0, "minutes": 45, "utc": true},
                {"year": 2017, "month": 3, "date": 16, "hours": 1, "minutes": 45, "utc": true},
                {"year": 2017, "month": 3, "date": 16, "hours": 2, "minutes": 45, "utc": true},
                {"year": 2017, "month": 3, "date": 16, "hours": 3, "minutes": 45, "utc": true},
                {"year": 2017, "month": 3, "date": 16, "hours": 4, "minutes": 45, "utc": true},
                {"year": 2017, "month": 3, "date": 16, "hours": 5, "minutes": 45, "utc": true},
                {"year": 2017, "month": 3, "date": 16, "hours": 6, "minutes": 45, "utc": true},
                {"year": 2017, "month": 3, "date": 16, "hours": 7, "minutes": 45, "utc": true},
                {"year": 2017, "month": 3, "date": 16, "hours": 8, "minutes": 45, "utc": true},
                {"year": 2017, "month": 3, "date": 16, "hours": 9, "minutes": 45, "utc": true},
                {"year": 2017, "month": 3, "date": 16, "hours": 10, "minutes": 45, "utc": true},
                {"year": 2017, "month": 3, "date": 16, "hours": 11, "minutes": 45, "utc": true},
                {"year": 2017, "month": 3, "date": 16, "hours": 12, "minutes": 45, "utc": true},
                {"year": 2017, "month": 3, "date": 16, "hours": 13, "minutes": 45, "utc": true},
                {"year": 2017, "month": 3, "date": 16, "hours": 14, "minutes": 45, "utc": true}
              ]}},
          "y": {"field": "macd", "type": "quantitative", "scale": {"domain": [-0.029, 0.122], "range": [1233, 990], "zero": false, "nice": false}, "axis": null},
          "y2": {"datum": 0}
        }
      }
    ]
  },
  {
    "layer": [
      {
        "mark": {"type": "line", "color": "#ff0000", "strokeWidth": 2, "strokeDash": [8, 7]},
        "encoding": {
          "x": {"field": "t", "type": "temporal",
            "scale": {"type": "utc", "domain": [{"year": 2017, "month": 3, "date": 15, "hours": 5, "minutes": 33, "seconds": 45, "utc": true}, {"year": 2017, "month": 3, "date": 16, "hours": 15, "minutes": 10, "seconds": 18, "utc": true}]},
            "axis": {"orient": "bottom", "title": null, "grid": false, "format": "%d %b %H:%M", "labelAlign": "left", "labelBaseline": "top", "labelFontSize": 18, "labelPadding": 6, "tickSize": 6, "tickWidth": 1.5, "domainWidth": 1.5, "labelBound": false,
              "values": [
                {"year": 2017, "month": 3, "date": 15, "hours": 5, "minutes": 45, "utc": true},
                {"year": 2017, "month": 3, "date": 15, "hours": 7, "minutes": 45, "utc": true},
                {"year": 2017, "month": 3, "date": 15, "hours": 9, "minutes": 45, "utc": true},
                {"year": 2017, "month": 3, "date": 15, "hours": 11, "minutes": 45, "utc": true},
                {"year": 2017, "month": 3, "date": 15, "hours": 13, "minutes": 45, "utc": true},
                {"year": 2017, "month": 3, "date": 15, "hours": 15, "minutes": 45, "utc": true},
                {"year": 2017, "month": 3, "date": 15, "hours": 17, "minutes": 45, "utc": true},
                {"year": 2017, "month": 3, "date": 15, "hours": 19, "minutes": 45, "utc": true},
                {"year": 2017, "month": 3, "date": 15, "hours": 21, "minutes": 45, "utc": true},
                {"year": 2017, "month": 3, "date": 15, "hours": 23, "minutes": 45, "utc": true},
                {"year": 2017, "month": 3, "date": 16, "hours": 1, "minutes": 45, "utc": true},
                {"year": 2017, "month": 3, "date": 16, "hours": 3, "minutes": 45, "utc": true},
                {"year": 2017, "month": 3, "date": 16, "hours": 5, "minutes": 45, "utc": true},
                {"year": 2017, "month": 3, "date": 16, "hours": 7, "minutes": 45, "utc": true},
                {"year": 2017, "month": 3, "date": 16, "hours": 9, "minutes": 45, "utc": true},
                {"year": 2017, "month": 3, "date": 16, "hours": 11, "minutes": 45, "utc": true},
                {"year": 2017, "month": 3, "date": 16, "hours": 13, "minutes": 45, "utc": true}
              ]}},
          "y": {"field": "signal", "type": "quantitative",
            "scale": {"domain": [-0.029, 0.122], "range": [1233, 990], "zero": false, "nice": false},
            "axis": {"orient": "right", "title": null, "values": [-0.029, 0, 0.122], "labelExpr": "datum.value == 0 ? '0.00' : (datum.value < 0 ? '-' : '') + format(abs(datum.value), '.3f')", "labelFlush": true, "labelFontSize": 16, "labelPadding": 2, "tickSize": 4, "domain": false, "grid": false}}
        }
      },
      {
        "data": {"values": [{"level": 0.122}]},
        "mark": {"type": "rule", "color": "#ffffff", "strokeWidth": 1.5},
        "encoding": {
          "y": {"field": "level", "type": "quantitative", "scale": {"domain": [-0.029, 0.122], "range": [1233, 990], "zero": false, "nice": false}}
        }
      },
      {
        "data": {"values": [{"t": "2017-03-15T23:28Z", "value": 0.0487, "label": "MACD"}]},
        "mark": {"type": "text", "font": "Noto Sans CJK SC", "fontSize": 59, "fontWeight": 300, "color": "#ffffff", "align": "left", "baseline": "middle"},
        "encoding": {
          "x": {"field": "t", "type": "temporal", "scale": {"type": "utc", "domain": [{"year": 2017, "month": 3, "date": 15, "hours": 5, "minutes": 33, "seconds": 45, "utc": true}, {"year": 2017, "month": 3, "date": 16, "hours": 15, "minutes": 10, "seconds": 18, "utc": true}]}},
          "y": {"field": "value", "type": "quantitative", "scale": {"domain": [-0.029, 0.122], "range": [1233, 990], "zero": false, "nice": false}},
          "text": {"field": "label"}
        }
      }
    ]
  },
  {
    "data": {"values": [{"bid": 17.44}]},
    "mark": {"type": "rule", "color": "#8595a8", "strokeWidth": 1.5},
    "encoding": {
      "y": {"field": "bid", "type": "quantitative",
        "scale": {"domain": [16.8, 17.6], "range": [985, 0], "zero": false, "nice": false, "clamp": true},
        "axis": {"orient": "right", "title": null, "values": [17.44], "format": ".2f", "offset": 8, "tickSize": 51, "tickWidth": 17, "tickColor": "#ffffff", "labelColor": "#000000", "labelFontSize": 16, "labelPadding": -48, "domain": false, "grid": false}}
    }
  }
],
"resolve": {"scale": {"y": "independent"}, "axis": {"x": "independent", "y": "independent"}}
}
